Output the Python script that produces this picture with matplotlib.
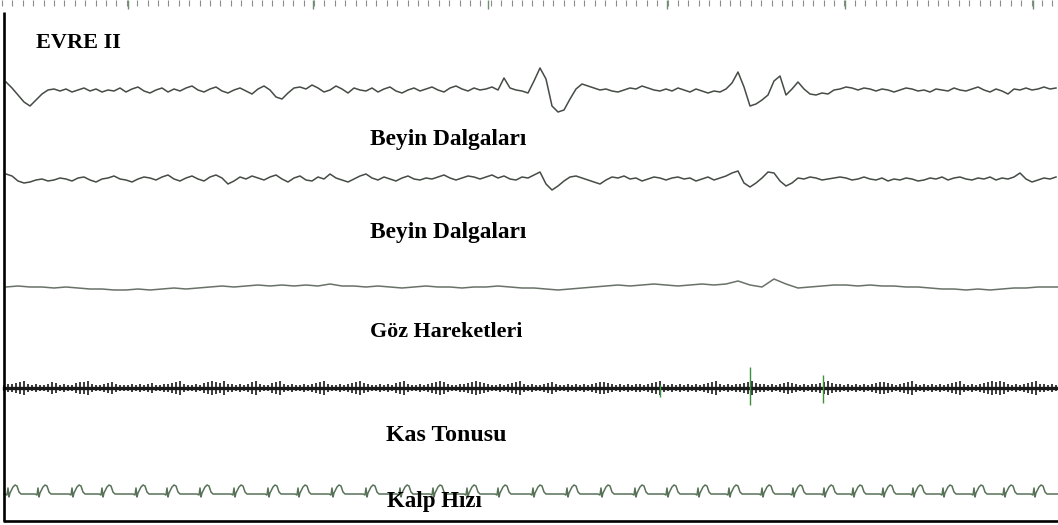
import numpy as np
import matplotlib
matplotlib.use("Agg")
import matplotlib.pyplot as plt

W, H = 1058, 525
INK = "#000000"; TRACE = "#454c45"; ECGC = "#587258"; EMGC = "#1a1a1a"; RULER = "#8c8c8c"

# ---- channel deflections (px, up = +) ----
eeg_step = 6
eeg1 = [9, 3, -4, -11, -15, -9, -3, 1, 2, 0,
        2, -1, 1, 3, 0, 2, -1, 1, 0, 3,
        -1, 2, 4, 0, -2, 1, 3, -1, 2, 0,
        3, 5, 1, -1, 2, 4, 0, -2, 1, 3,
        0, -3, 2, 5, 1, -6, -8, -2, 3, 4,
        2, 6, 3, -1, 1, 5, 2, -2, 3, 1,
        0, 3, -1, 2, 4, 0, -2, 1, 3, 0,
        2, 4, 1, -1, 3, 5, 2, 0, 3, 1,
        2, 4, 1, 13, 3, 1, 0, -2, 10, 23,
        12, -15, -21, -19, -8, 2, 7, 5, 3, 1,
        2, 0, -1, 1, 3, 2, 5, 3, 1, 0,
        2, 0, 3, 1, -1, 2, 0, -2, 0, -1,
        2, 8, 19, 4, -15, -13, -9, -4, 10, 15,
        -4, 2, 9, 2, -3, -4, -2, -3, 1, 2,
        4, 3, 1, 3, 2, 0, 2, 1, -1, 1,
        3, 2, 0, 1, -1, 2, 1, 0, 3, 1,
        0, 2, 4, 1, -1, 2, 0, -3, 2, 1,
        3, 1, 2, 4, 2, 3]
eeg2 = [6, 4, -1, -3, -2, 0, 1, -1, 0, 2,
        1, -1, 2, 3, 0, -2, 1, 2, 4, 1,
        0, -2, 1, 3, 2, 0, 3, 5, 1, -1,
        2, 4, 1, -1, 3, 5, 2, -4, -1, 3,
        1, 4, 2, 0, 3, 5, 1, -2, 2, 4,
        0, -1, 3, 1, 6, 2, 0, -2, 1, 4,
        6, 2, 0, 3, 1, -1, 2, 4, 1, 0,
        2, 1, 3, 5, 2, 0, 2, 4, 3, 1,
        3, 5, 2, 4, 1, 0, 3, 2, 5, 8,
        -4, -10, -6, -1, 3, 4, 2, 0, -2, -4,
        0, 3, 2, 4, 1, 2, -1, 1, 3, 2,
        0, 2, 3, 1, 2, -1, 1, 3, 0, 2,
        4, 7, 9, -3, -7, -3, 2, 8, 7, -1,
        -6, -3, 2, 1, 3, 2, 0, 1, 2, 3,
        2, 0, 1, 3, 1, 0, 2, -1, 1, 0,
        2, 1, -1, 0, 2, 1, 3, 0, 2, 3,
        1, 0, 2, 1, 3, 0, 2, 1, 3, 7,
        1, -2, 0, 2, 1, 3]
eog_step = 12
eog = [0, 1, 0, 0, -1, 0, -1, -2, -2, -3,
       -3, -2, -3, -2, -1, -2, -1, 0, 1, 0,
       1, 2, 1, 2, 1, 2, 1, 3, 1, 1,
       0, 1, 0, -1, 0, 1, 0, 0, -1, 0,
       0, 1, 0, -1, -1, -2, -3, -2, -1, 0,
       1, 2, 1, 2, 3, 2, 1, 2, 3, 2,
       3, 6, 2, 0, 8, 3, -1, 0, 1, 2,
       2, 1, 2, 1, 1, 0, 0, -1, -2, -2,
       -3, -2, -3, -2, -1, -1, 0, 0, 0]
emg_step = 4
emg_amp = ("3445674343" "3465343356" "6743345643" "3343434533" "4456743343"
           "5676574434" "3467433567" "4343343456" "7433434567" "5433434356"
           "7433434567" "6433445676" "5433434567" "4343345643" "3434343456"
           "6543434344" "3456743434" "3434345674" "3434456754" "4343456543"
           "4344567544" "3434343456" "6543456743" "4343434567" "4343456767"
           "6434345674" "4343")
emg_spike_x = [660, 750, 823]
emg_spike_top = [3, 21, 13]
emg_spike_bot = [-9, -17, -15]
ecg_beats = [5, 35, 69, 99, 133, 164, 197, 231, 265, 295, 329, 363, 397, 430, 464,
             495, 530, 564, 598, 632, 664, 695, 726, 759, 790, 821, 850, 880, 910,
             940, 971, 1001, 1031]
ecg_beat_dx = [0, 2, 3, 4, 5, 8, 10, 12, 14, 16]
ecg_beat_v = [0, -1, 6, -3, 1, 7, 9, 8, 2, 0]
ruler_major = [128, 313, 488, 667, 845, 1033]

labels = ["EVRE II", "Beyin Dalgaları", "Beyin Dalgaları", "Göz Hareketleri",
          "Kas Tonusu", "Kalp Hızı"]

# ---- layout (px) ----
base = {"eeg1": 91, "eeg2": 180, "eog": 287, "emg": 388, "ecg": 494}
label_xy = [(36, 48, 16), (370, 145, 16.8), (370, 238, 16.8), (370, 337, 15.8),
            (386, 441, 17.2), (387, 507, 16.5)]

fig = plt.figure(figsize=(W / 100, H / 100), dpi=100)
ax = fig.add_axes([0, 0, 1, 1])
ax.set_xlim(0, W); ax.set_ylim(H, 0); ax.axis("off")

def trace(vals, step, b, x0, **kw):
    v = np.asarray(vals, float)
    x = x0 + step * np.arange(len(v))
    ax.plot(x, b - v, **kw)

trace(eeg1, eeg_step, base["eeg1"], 6, color=TRACE, lw=1.1)
trace(eeg2, eeg_step, base["eeg2"], 6, color=TRACE, lw=1.1)
trace(eog, eog_step, base["eog"], 6, color="#687268", lw=1.1)

# EMG: dense hairy band
a = np.array([int(c) for c in emg_amp], float)
xe = emg_step * (np.arange(len(a)) + 1)
ax.plot([4, W], [base["emg"]] * 2, color=EMGC, lw=2.4)
ax.vlines(xe, base["emg"] - a, base["emg"] + a, color=EMGC, lw=1.2)
ax.vlines(emg_spike_x, base["emg"] - np.array(emg_spike_top), base["emg"] - np.array(emg_spike_bot),
          color="#3f8f3f", lw=1.0)

# ECG
ex, ey = [4], [0]
for b in ecg_beats:
    ex += [b + d for d in ecg_beat_dx]; ey += ecg_beat_v
ex.append(W); ey.append(0)
ax.plot(ex, base["ecg"] - np.array(ey, float), color=ECGC, lw=1.1)

# ruler along the top
minor = np.arange(2, W, 10.4)
ax.vlines(minor, 0, 6, color=RULER, lw=0.8)
ax.vlines(ruler_major, 0, 9, color="#6f8f6f", lw=1.0)

# frame
ax.plot([4, 4], [12, 521], color=INK, lw=1.9, solid_capstyle="butt")
ax.plot([3, W], [520.5, 520.5], color=INK, lw=1.9, solid_capstyle="butt")

for s, (x, y, fs) in zip(labels, label_xy):
    ax.text(x, y, s, ha="left", va="baseline", fontsize=fs, fontweight="bold",
            family=["Liberation Serif", "DejaVu Serif"], color=INK)

fig.savefig("out.png", dpi=100)
